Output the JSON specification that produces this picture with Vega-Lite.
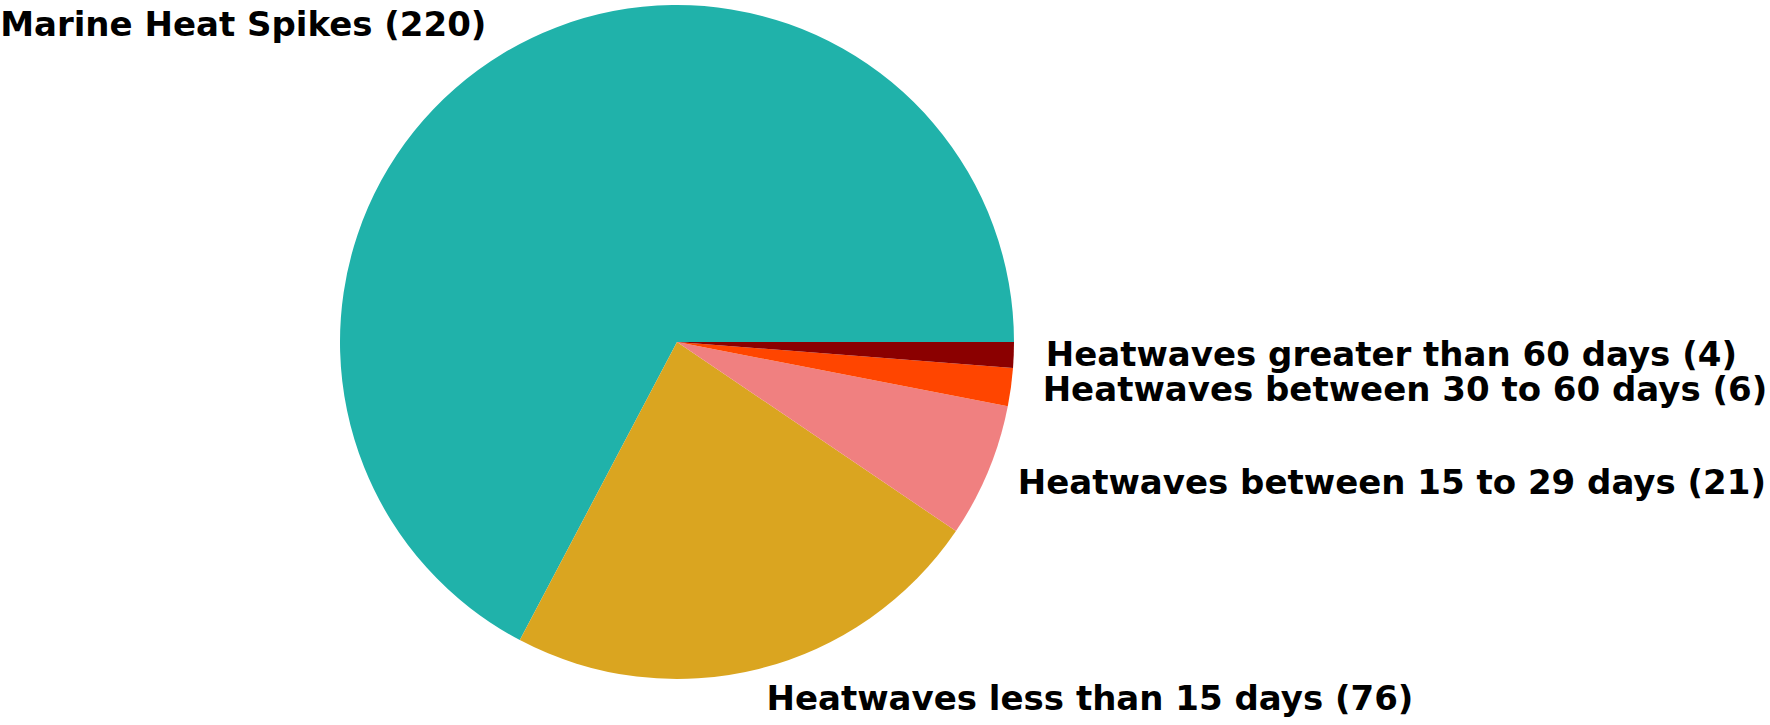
{
  "$schema": "https://vega.github.io/schema/vega-lite/v6.json",
  "autosize": {"type": "none"},
  "width": 1354,
  "height": 684,
  "padding": {"left": 0, "top": 0, "right": 416, "bottom": 41},
  "background": "white",
  "data": {
    "values": [
      {"category": "Marine Heat Spikes", "count": 220, "order": 1, "label": "Marine Heat Spikes (220)"},
      {"category": "Heatwaves less than 15 days", "count": 76, "order": 2, "label": "Heatwaves less than 15 days (76)"},
      {"category": "Heatwaves between 15 to 29 days", "count": 21, "order": 3, "label": "Heatwaves between 15 to 29 days (21)"},
      {"category": "Heatwaves between 30 to 60 days", "count": 6, "order": 4, "label": "Heatwaves between 30 to 60 days (6)"},
      {"category": "Heatwaves greater than 60 days", "count": 4, "order": 5, "label": "Heatwaves greater than 60 days (4)"}
    ]
  },
  "encoding": {
    "theta": {"field": "count", "type": "quantitative", "stack": true, "scale": {"range": [1.5707963, -4.7123890]}},
    "order": {"field": "order", "type": "quantitative", "sort": "ascending"}
  },
  "layer": [
    {
      "mark": {"type": "arc", "outerRadius": 337, "stroke": null},
      "encoding": {
        "color": {
          "field": "category",
          "type": "nominal",
          "legend": null,
          "scale": {
            "domain": ["Marine Heat Spikes", "Heatwaves less than 15 days", "Heatwaves between 15 to 29 days", "Heatwaves between 30 to 60 days", "Heatwaves greater than 60 days"],
            "range": ["#20B2AA", "#DAA520", "#F08080", "#FF4500", "#8B0000"]
          }
        }
      }
    },
    {
      "mark": {"type": "text", "radius": 369, "align": "right", "baseline": "middle", "font": "DejaVu Sans", "fontWeight": "bold", "fontSize": 34, "color": "black"},
      "encoding": {"text": {"condition": {"test": "datum.order == 1", "field": "label", "type": "nominal"}, "value": ""}}
    },
    {
      "mark": {"type": "text", "radius": 369, "align": "left", "baseline": "middle", "font": "DejaVu Sans", "fontWeight": "bold", "fontSize": 34, "color": "black"},
      "encoding": {"text": {"condition": {"test": "datum.order > 1", "field": "label", "type": "nominal"}, "value": ""}}
    }
  ]
}
